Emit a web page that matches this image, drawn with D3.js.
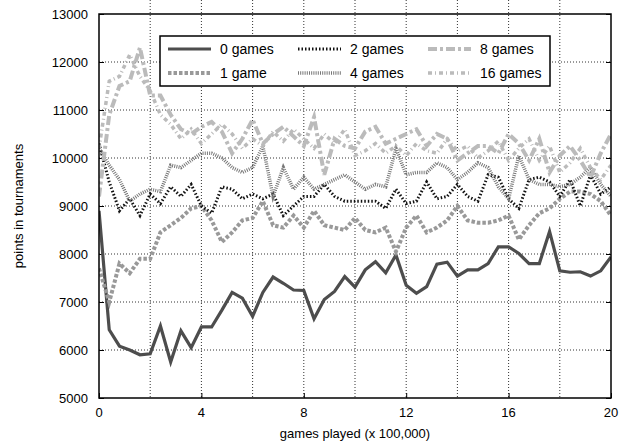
<!DOCTYPE html>
<html>
<head>
<meta charset="utf-8">
<script src="https://cdn.jsdelivr.net/npm/d3@7"></script>
<style>
    body { margin: 0; background: #fff; }
    svg { font-family: "Liberation Sans", Arial, sans-serif; }
    .grid line { stroke: #000; stroke-width: 1; stroke-dasharray: 1,2; opacity: .8; }
    .tick-label { font-size: 13px; fill: #000; }
    .axis-title { font-size: 13px; fill: #000; }
    .legend text { font-size: 14px; fill: #000; }
</style>
</head>
<body>
<div id="chart"></div>
<script>
// x positions (games played, x 100,000), every 0.4 from 0 to 20
const gamesPlayed = d3.range(51).map(i => +(i * 0.4).toFixed(1));

const games0 = [8900, 6420, 6080, 6000, 5900, 5920, 6500, 5750, 6400, 6050,
    6480, 6480, 6830, 7200, 7080, 6700, 7200, 7520, 7390, 7250,
    7240, 6650, 7050, 7220, 7530, 7310, 7670, 7840, 7610, 7980,
    7350, 7180, 7320, 7790, 7830, 7540, 7670, 7670, 7800, 8150,
    8150, 8010, 7800, 7800, 8470, 7650, 7620, 7630, 7540, 7650, 7940];

const games1 = [7700, 7000, 7800, 7600, 7900, 7900, 8450, 8600, 8750, 8950,
    9000, 8700, 8250, 8450, 8700, 8750, 9100, 8600, 8550, 8800,
    8550, 8900, 8600, 8550, 8500, 8750, 8500, 8450, 8550, 8050,
    8550, 8800, 8450, 8550, 8700, 9000, 8700, 8650, 8650, 8700,
    8800, 8300, 8600, 8850, 8950, 9150, 9300, 9300, 9250, 9100, 8800];

const games2 = [10300, 9500, 8900, 9150, 8800, 9250, 9050, 9400, 9200, 9450,
    9000, 8850, 9400, 9350, 9150, 9250, 9150, 9250, 8800, 9000,
    9200, 9200, 9450, 9200, 9100, 9100, 9100, 9100, 8950, 9350,
    9050, 9100, 9500, 9150, 9200, 9450, 9200, 9100, 9650, 9600,
    9150, 8950, 9550, 9600, 9500, 9200, 9550, 9000, 9650, 9250, 9400];

const games4 = [10200, 9850, 9550, 9100, 9250, 9350, 9300, 9850, 9800, 9950,
    10100, 10100, 10000, 9800, 9700, 9800, 10250, 9200, 9800, 9350,
    9600, 9350, 9450, 9550, 9650, 9500, 9350, 9450, 9400, 10200,
    9650, 9700, 9700, 9900, 9800, 9550, 9700, 9900, 9800, 9400,
    9150, 10050, 9550, 9450, 9450, 9400, 9450, 9600, 9800, 9450, 9200];

const games8 = [9200, 10900, 11500, 11600, 12300, 11300, 11300, 10900, 10600, 10500,
    10650, 10750, 10550, 10100, 10400, 10800, 10300, 10500, 10650, 10450,
    10250, 10850, 9650, 10400, 10250, 10200, 10550, 10650, 10300, 10400,
    10500, 10600, 10250, 10500, 10400, 9950, 10100, 10250, 10250, 10100,
    10500, 10300, 9950, 10400, 9700, 10050, 10250, 9950, 9600, 10100, 10500];

const games16 = [10200, 11600, 11700, 12150, 11700, 11400, 10900, 10700, 10400, 10600,
    10300, 10500, 10700, 10500, 10200, 10400, 10250, 10550, 10350, 10600,
    10400, 10200, 10500, 10300, 10600, 10050, 10150, 10300, 10100, 10250,
    10050, 10300, 10150, 10100, 10400, 10150, 10250, 10000, 10150, 10350,
    9950, 10200, 10400, 9950, 10250, 9700, 9900, 10200, 9800, 9550, 9850];

const seriesNames = ["0 games", "1 game", "2 games", "4 games", "8 games", "16 games"];
const seriesValues = [games0, games1, games2, games4, games8, games16];

const xTicks = [0, 4, 8, 12, 16, 20];
const yTicks = d3.range(5000, 13001, 1000);

// line styles per series
const styles = [
    {color: "#4d4d4d", width: 3.2, dash: null},
    {color: "#999", width: 4, dash: "3.5,2"},
    {color: "#111", width: 3, dash: "1.5,2"},
    {color: "#777", width: 3.5, dash: "1,1.2"},
    {color: "#bbb", width: 4, dash: "9,3,3,3"},
    {color: "#bbb", width: 3.5, dash: "4,3,1,3"}
];

const width = 630, height = 445;
const margin = {left: 99, right: 19, top: 14, bottom: 47};
const x0 = margin.left, x1 = width - margin.right;
const y0 = height - margin.bottom, y1 = margin.top;

const svg = d3.select("#chart").append("svg")
    .attr("width", width)
    .attr("height", height);

const x = d3.scaleLinear().domain([0, 20]).range([x0, x1]);
const y = d3.scaleLinear().domain([5000, 13000]).range([y0, y1]);

svg.append("defs").append("clipPath").attr("id", "plotclip")
    .append("rect").attr("x", x0).attr("y", y1).attr("width", x1 - x0).attr("height", y0 - y1);

// grid
const grid = svg.append("g").attr("class", "grid");
grid.selectAll("line.v").data(d3.range(2, 20, 2)).enter().append("line")
    .attr("x1", d => x(d)).attr("x2", d => x(d))
    .attr("y1", 0).attr("y2", y0);
grid.selectAll("line.h").data(yTicks.slice(1, -1)).enter().append("line")
    .attr("x1", x0).attr("x2", x1)
    .attr("y1", d => y(d)).attr("y2", d => y(d));

// axes with inward ticks
const axisG = svg.append("g");
axisG.append("g").attr("transform", `translate(${x0},0)`)
    .call(d3.axisRight(y).tickValues(yTicks).tickSize(5).tickFormat(""));
axisG.append("g").attr("transform", `translate(${x1},0)`)
    .call(d3.axisLeft(y).tickValues(yTicks).tickSize(5).tickFormat(""));
axisG.append("g").attr("transform", `translate(0,${y0})`)
    .call(d3.axisTop(x).tickValues(xTicks).tickSize(5).tickFormat(""));
axisG.selectAll(".domain").remove();
axisG.selectAll(".tick line").attr("stroke", "#000").attr("stroke-width", 1);

// tick labels
svg.append("g").selectAll("text").data(yTicks).enter().append("text")
    .attr("class", "tick-label")
    .attr("x", x0 - 11).attr("y", d => y(d) + 4.5)
    .attr("text-anchor", "end")
    .text(d => d);
svg.append("g").selectAll("text").data(xTicks).enter().append("text")
    .attr("class", "tick-label")
    .attr("x", d => x(d)).attr("y", y0 + 19)
    .attr("text-anchor", "middle")
    .text(d => d);

// titles
svg.append("text").attr("class", "axis-title")
    .attr("x", (x0 + x1) / 2).attr("y", 438)
    .attr("text-anchor", "middle")
    .text("games played (x 100,000)");
svg.append("text").attr("class", "axis-title")
    .attr("transform", `translate(23,${(y0 + y1) / 2}) rotate(-90)`)
    .attr("text-anchor", "middle")
    .text("points in tournaments");

// lines
const line = d3.line()
    .x((d, i) => x(gamesPlayed[i]))
    .y(d => y(d));

const gLines = svg.append("g").attr("clip-path", "url(#plotclip)");
seriesValues.forEach(function (vals, k) {
    const s = styles[k];
    gLines.append("path")
        .attr("d", line(vals))
        .attr("fill", "none")
        .attr("stroke", s.color)
        .attr("stroke-width", s.width)
        .attr("stroke-linejoin", "miter")
        .attr("stroke-dasharray", s.dash);
});

// frame
svg.append("rect")
    .attr("x", x0).attr("y", y1)
    .attr("width", x1 - x0).attr("height", y0 - y1)
    .attr("fill", "none").attr("stroke", "#000").attr("stroke-width", 1.5);

// legend
const legend = svg.append("g").attr("class", "legend");
legend.append("rect")
    .attr("x", 160).attr("y", 36).attr("width", 390).attr("height", 50)
    .attr("fill", "#fff").attr("stroke", "#000").attr("stroke-width", 1.5);
const colX = [168, 298, 428];
const textX = [220, 350, 480];
const rowY = [49, 73];
// legend order: column-major (0,1 | 2,4 | 8,16)
seriesNames.forEach(function (name, k) {
    const col = Math.floor(k / 2), row = k % 2;
    const s = styles[k];
    legend.append("line")
        .attr("x1", colX[col]).attr("x2", colX[col] + 43)
        .attr("y1", rowY[row]).attr("y2", rowY[row])
        .attr("stroke", s.color)
        .attr("stroke-width", s.width)
        .attr("stroke-dasharray", s.dash);
    legend.append("text")
        .attr("x", textX[col]).attr("y", rowY[row] + 5)
        .text(name);
});
</script>
</body>
</html>
